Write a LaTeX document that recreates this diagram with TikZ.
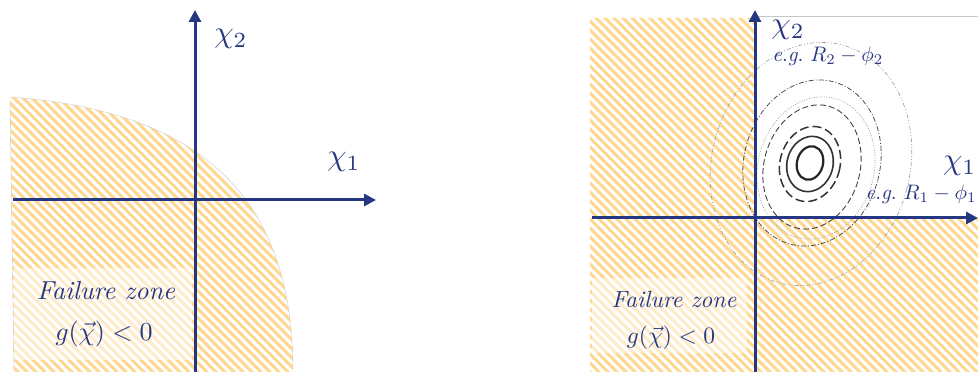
\documentclass[tikz,border=0pt]{standalone}
\usepackage{fontspec}
\usetikzlibrary{arrows.meta}
\definecolor{axisblue}{RGB}{35,55,130}
\definecolor{txtblue}{RGB}{40,56,128}
\definecolor{hatchcol}{RGB}{255,215,145}
\tikzset{
  axisline/.style={draw=axisblue,line width=3pt,-{Triangle[length=12pt,width=12pt]}},
  hatchline/.style={draw=hatchcol,line width=2.9pt},
  lbl/.style={text=txtblue,inner sep=0pt},
  bigchi/.style={lbl,scale=3.1},
  eglbl/.style={lbl,scale=2.1},
  zonelbl/.style={lbl,scale=2.6},
  zonelblr/.style={lbl,scale=2.35},
  glow/.style={fill=white,opacity=0.5},
  cA/.style={draw=black!85,line width=2.2pt},
  cB/.style={draw=black!80,line width=1.6pt},
  cC/.style={draw=black!80,line width=1.5pt,dash pattern=on 9pt off 4pt},
  cD/.style={draw=black!75,line width=0.9pt,dash pattern=on 6pt off 3pt},
  cE/.style={draw=gray!75,line width=0.7pt,dash pattern=on 1pt off 1.5pt},
  cF/.style={draw=black!70,line width=0.8pt,dash pattern=on 5pt off 2pt on 1pt off 2pt},
  cG/.style={draw=gray!80,line width=0.6pt,dash pattern=on 4pt off 2pt on 1pt off 2pt on 1pt off 2pt},
}
\begin{document}
\begin{tikzpicture}[x=1pt,y=1pt]
\useasboundingbox (0,0) rectangle (978,372);

% ---------------- left panel ----------------
\begin{scope}
  \clip (10,275) .. controls (220,260) and (293,157) .. (293,0) -- (14,0) -- cycle;
  \foreach \c in {-390,-381,...,300} \draw[hatchline] (\c,372) -- ++(390,-390);
\end{scope}
\draw[gray!40,line width=0.4pt] (14,0) -- (10,275) .. controls (220,260) and (293,157) .. (293,0);
\fill[glow] (14,12) rectangle (192,104);

\coordinate (Lvb) at (195,0);
\coordinate (Lvt) at (195,362);
\coordinate (Lhl) at (13,172);
\coordinate (Lhr) at (376,172);
\draw[axisline] (Lvb) -- (Lvt);
\draw[axisline] (Lhl) -- (Lhr);

\node[bigchi] (Lchi2) at (231,333) {$\chi_2$};
\node[bigchi] (Lchi1) at (344,210) {$\chi_1$};
\node[zonelbl] (Lzone) at (106,81) {\itshape Failure zone};
\node[zonelbl] (Lg) at (104,38) {$g(\vec{\chi})<0$};

% ---------------- right panel ----------------
\begin{scope}
  \clip (590,0) -- (590,354) -- (755,354) -- (755,154) -- (978,154) -- (978,0) -- cycle;
  \foreach \c in {200,209,...,990} \draw[hatchline] (\c,372) -- ++(390,-390);
\end{scope}
\draw[gray!45,line width=0.6pt] (755,356) -- (978,356);
\fill[glow] (592,19) rectangle (747,94);

% contours
\draw[cG,rotate around={-15:(811,208)}] (811,208) ellipse [x radius=99, y radius=123];
\draw[cF,rotate around={-15:(812,209)}] (812,209) ellipse [x radius=68, y radius=84];
\draw[cE,rotate around={-15:(816,204)}] (816,204) ellipse [x radius=58, y radius=72];
\draw[cD,rotate around={-15:(812,205)}] (812,205) ellipse [x radius=48, y radius=63];
\draw[cC,rotate around={-15:(810,208)}] (810,208) ellipse [x radius=30, y radius=38];
\draw[cB,rotate around={-15:(810,208)}] (810,208) ellipse [x radius=23, y radius=28];
\draw[cA,rotate around={-15:(810,209)}] (810,209) ellipse [x radius=13, y radius=17];

\coordinate (Rvb) at (755,0);
\coordinate (Rvt) at (755,362);
\coordinate (Rhl) at (592,154);
\coordinate (Rhr) at (978,154);
\draw[axisline] (Rvb) -- (Rvt);
\draw[axisline] (Rhl) -- (Rhr);

\node[bigchi] (Rchi2) at (788,342) {$\chi_2$};
\node[eglbl,anchor=west] (Reg2) at (772,316) {$\mathit{e.g.}\ R_2-\phi_2$};
\node[bigchi,anchor=east] (Rchi1) at (977,206) {$\chi_1$};
\node[eglbl,anchor=east] (Reg1) at (977,178) {$\mathit{e.g.}\ R_1-\phi_1$};
\node[zonelblr] (Rzone) at (674,73) {\itshape Failure zone};
\node[zonelblr] (Rg) at (671,34) {$g(\vec{\chi})<0$};
\end{tikzpicture}
\end{document}
